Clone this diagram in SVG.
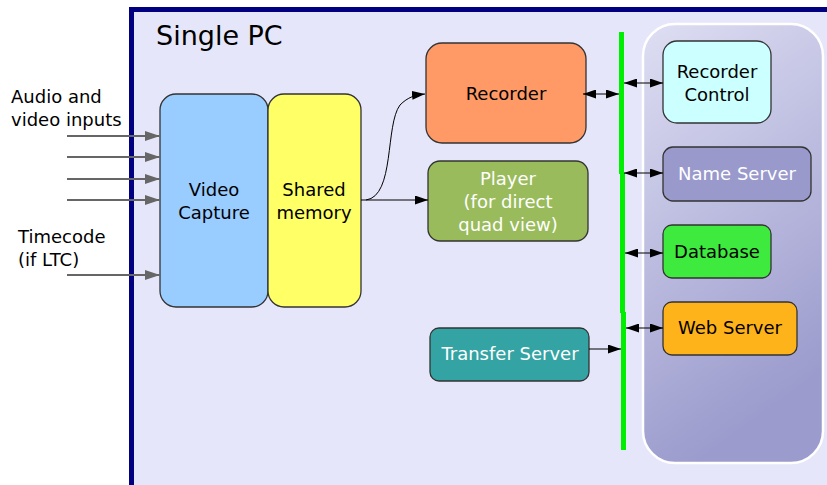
<svg xmlns="http://www.w3.org/2000/svg" width="827" height="485" viewBox="0 0 827 485">
<defs>
<style>
text{font-family:"DejaVu Sans","Liberation Sans",sans-serif;font-size:18px;text-anchor:middle;fill:#000}
.w{fill:#fff}
.l{text-anchor:start}
.box{stroke:#333;stroke-width:1.3}
.in{stroke:#666;stroke-width:2;fill:none}
.bl{stroke:#000;stroke-width:1;fill:none}
.bus{stroke:#00ee00;stroke-width:5}
</style>
<marker id="ga" viewBox="0 0 15 10" refX="15" refY="5" markerWidth="15" markerHeight="10" markerUnits="userSpaceOnUse" orient="auto"><path d="M0,0L15,5L0,10z" fill="#666"/></marker>
<marker id="ba" viewBox="0 0 13 9" refX="13" refY="4.5" markerWidth="13" markerHeight="9" markerUnits="userSpaceOnUse" orient="auto-start-reverse"><path d="M0,0L13,4.5L0,9z" fill="#000"/></marker>
<linearGradient id="pg" x1="0" y1="0" x2="0.3" y2="1"><stop offset="0" stop-color="#dedef3"/><stop offset="1" stop-color="#9b9bcd"/></linearGradient>
</defs>
<rect x="131.5" y="9.5" width="720" height="500" fill="#e6e6fa" stroke="#000080" stroke-width="5"/>
<text class="l" x="156" y="45" style="font-size:27px">Single PC</text>
<g id="panel"><rect x="643" y="24" width="180" height="439" rx="32" fill="url(#pg)" stroke="#fff" stroke-width="2.5"/></g>
<g id="labels">
<text class="l" x="11" y="103">Audio and</text>
<text class="l" x="11" y="126">video inputs</text>
<text class="l" x="18" y="243">Timecode</text>
<text class="l" x="18" y="266">(if LTC)</text>
</g>
<g id="video-capture"><rect class="box" x="160" y="94" width="108" height="213" rx="16" fill="#99ccff"/><text x="214" y="196">Video</text><text x="214" y="219">Capture</text></g>
<g id="shared-memory"><rect class="box" x="268" y="94" width="93" height="213" rx="16" fill="#ffff66"/><text x="314" y="196">Shared</text><text x="314" y="219">memory</text></g>
<g id="recorder"><rect class="box" x="426" y="43" width="160" height="100" rx="16" fill="#ff9966"/><text x="506" y="100">Recorder</text></g>
<g id="player"><rect class="box" x="428" y="161" width="160" height="80" rx="12" fill="#99bb5b"/><text class="w" x="508" y="185">Player</text><text class="w" x="508" y="208">(for direct</text><text class="w" x="508" y="231">quad view)</text></g>
<g id="transfer-server"><rect class="box" x="430" y="328" width="159" height="53" rx="9" fill="#33a3a3"/><text class="w" x="510" y="360">Transfer Server</text></g>
<g id="recorder-control"><rect class="box" x="663" y="41" width="108" height="82" rx="14" fill="#ccffff"/><text x="717" y="78">Recorder</text><text x="717" y="101">Control</text></g>
<g id="name-server"><rect class="box" x="663" y="147" width="148" height="54" rx="10" fill="#9999cc"/><text class="w" x="737" y="180">Name Server</text></g>
<g id="database"><rect class="box" x="663" y="225" width="108" height="53" rx="9" fill="#3dea3d"/><text x="717" y="258">Database</text></g>
<g id="web-server"><rect class="box" x="663" y="302" width="134" height="53" rx="9" fill="#ffb31a"/><text x="730" y="334">Web Server</text></g>
<g id="connectors">
<line class="bus" x1="621.5" y1="32" x2="621.5" y2="174"/>
<line class="bus" x1="622.5" y1="173" x2="622.5" y2="313"/>
<line class="bus" x1="623.5" y1="312" x2="623.5" y2="450"/>
<line class="in" x1="67" y1="136" x2="160" y2="136" marker-end="url(#ga)"/>
<line class="in" x1="67" y1="157" x2="160" y2="157" marker-end="url(#ga)"/>
<line class="in" x1="67" y1="179" x2="160" y2="179" marker-end="url(#ga)"/>
<line class="in" x1="67" y1="200" x2="160" y2="200" marker-end="url(#ga)"/>
<line class="in" x1="67" y1="275" x2="160" y2="275" marker-end="url(#ga)"/>
<path class="bl" d="M366,200 C395,196 385,125 400,105 C408,97 415,95 425,94" marker-end="url(#ba)"/>
<line class="bl" x1="361" y1="200" x2="428" y2="200" marker-end="url(#ba)"/>
<line class="bl" x1="583" y1="94" x2="619" y2="94" marker-start="url(#ba)" marker-end="url(#ba)"/>
<line class="bl" x1="624" y1="83" x2="663" y2="83" marker-start="url(#ba)" marker-end="url(#ba)"/>
<line class="bl" x1="624" y1="173" x2="663" y2="173" marker-start="url(#ba)" marker-end="url(#ba)"/>
<line class="bl" x1="625" y1="253" x2="663" y2="253" marker-start="url(#ba)" marker-end="url(#ba)"/>
<line class="bl" x1="626" y1="328" x2="663" y2="328" marker-start="url(#ba)" marker-end="url(#ba)"/>
<line class="bl" x1="589" y1="349" x2="621" y2="349" marker-end="url(#ba)"/>
</g>
</svg>
